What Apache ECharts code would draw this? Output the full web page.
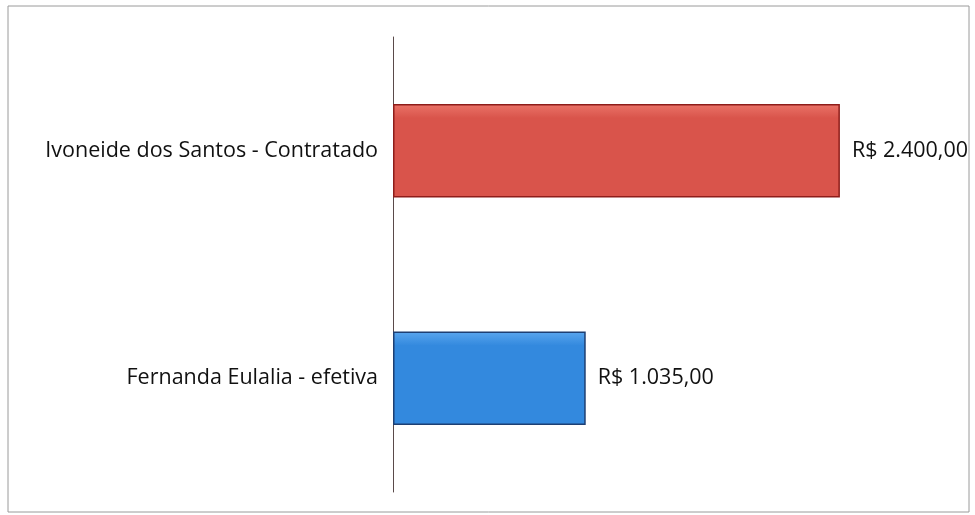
<!DOCTYPE html>
<html>
<head>
<meta charset="utf-8">
<script src="https://cdn.jsdelivr.net/npm/echarts@6/dist/echarts.min.js"></script>
<style>
  html, body { margin: 0; padding: 0; background: #fff; }
  #main { width: 975px; height: 515px; }
</style>
</head>
<body>
<div id="main"></div>
<script>
// categories, bottom to top (category axis on y starts at bottom)
const categories = ["Fernanda Eulalia - efetiva", "Ivoneide dos Santos - Contratado"];
const salaries = [1035, 2400];
const barColors = [
  { top: "#5aa6ee", bottom: "#3389de", border: "#1d3f73" },
  { top: "#ea7368", bottom: "#d9544b", border: "#8e1d1a" }
];

function brl(v) {
  const parts = v.toFixed(2).split(".");
  const int = parts[0].replace(/\B(?=(\d{3})+(?!\d))/g, ".");
  return "R$ " + int + "," + parts[1];
}

const chart = echarts.init(document.getElementById("main"));

const options = {
  backgroundColor: "#fff",
  animation: false,
  grid: {
    left: 393,
    top: 37,
    width: 540,
    bottom: 23,
  },
  graphic: [
    {
      type: "rect",
      shape: { x: 8, y: 6, width: 961, height: 506 },
      style: { fill: "none", stroke: "#9a9a9a", lineWidth: 1 },
      silent: true,
    },
  ],
  xAxis: {
    type: "value",
    min: 0,
    max: 2900,
    show: false,
  },
  yAxis: {
    type: "category",
    data: categories,
    axisLine: { show: true, lineStyle: { color: "#5a4a4a", width: 1 } },
    axisTick: { show: false },
    axisLabel: {
      margin: 15,
      color: "#111",
      fontFamily: "Open Sans",
      fontSize: 21.5,
    },
  },
  series: [
    {
      type: "bar",
      barWidth: "41%",
      data: salaries.map((v, i) => ({
        value: v,
        itemStyle: {
          color: new echarts.graphic.LinearGradient(0, 0, 0, 1, [
            { offset: 0, color: barColors[i].top },
            { offset: 0.15, color: barColors[i].bottom },
            { offset: 1, color: barColors[i].bottom },
          ]),
          borderColor: barColors[i].border,
          borderWidth: 1.5,
        },
      })),
      label: {
        show: true,
        position: "right",
        distance: 12,
        color: "#111",
        fontFamily: "Open Sans",
        fontSize: 21.5,
        formatter: (p) => brl(p.value),
      },
    },
  ],
};

chart.setOption(options);
</script>
</body>
</html>
